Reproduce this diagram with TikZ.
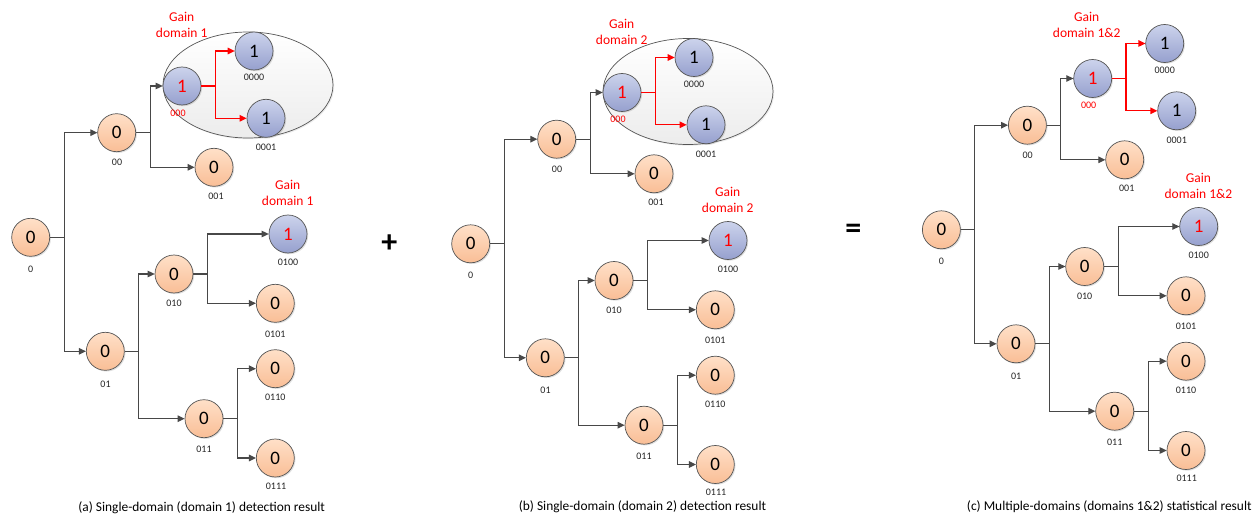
\documentclass[tikz,border=0pt]{standalone}
\usepackage{fontspec}
\setmainfont{Carlito}
\usetikzlibrary{arrows.meta,shadows,shapes.geometric}
\definecolor{orA}{RGB}{255,224,200}
\definecolor{orB}{RGB}{249,190,150}
\definecolor{blA}{RGB}{204,211,236}
\definecolor{blB}{RGB}{150,160,206}
\definecolor{edgegray}{RGB}{72,72,72}
\definecolor{bordergray}{RGB}{85,85,85}
\definecolor{ellA}{RGB}{255,255,255}
\definecolor{ellB}{RGB}{236,236,236}
\tikzset{
  tnode/.style={circle, draw=bordergray, line width=0.7pt, minimum size=38pt, inner sep=0pt,
    font=\fontsize{19}{19}\selectfont,
    drop shadow={opacity=0.25, shadow xshift=1.2pt, shadow yshift=-1.2pt}},
  zero/.style={tnode, top color=orA, bottom color=orB},
  one/.style={tnode, top color=blA, bottom color=blB},
  num/.style={font=\fontsize{10}{10}\selectfont, text=black!85, inner sep=0pt},
  gain/.style={text=red, align=center, font=\fontsize{13.5}{16}\selectfont, inner sep=0pt},
  edge/.style={draw=edgegray, line width=1.1pt, -{Triangle[length=7pt,width=6.5pt]}},
  redge/.style={draw=red, line width=1.3pt, -{Triangle[length=7pt,width=6.5pt]}},
  grp/.style={ellipse, draw=bordergray, line width=0.7pt, minimum width=170pt, minimum height=106pt,
    inner sep=0pt, top color=ellA, bottom color=ellB,
    drop shadow={opacity=0.15, shadow xshift=1.2pt, shadow yshift=-1.2pt}},
  caption/.style={font=\fontsize{13.4}{13.4}\selectfont, inner sep=0pt},
  opsign/.style={font=\bfseries\fontsize{32}{32}\selectfont, inner sep=0pt}
}
% #1 = upper gain text position, #2 = gain text
\newcommand\treebody[2]{%
  \node[zero] (r) at (30.7,237.3) {0};
  \node[zero] (n00) at (116.7,132.7) {0};
  \node[one, text=red] (n000) at (182,86) {1};
  \node[one] (n0000) at (254,51) {1};
  \node[one] (n0001) at (266,118.3) {1};
  \node[zero] (n001) at (214,167.3) {0};
  \node[zero] (n01) at (105.3,351.3) {0};
  \node[zero] (n010) at (174,274) {0};
  \node[one, text=red] (n0100) at (288,234) {1};
  \node[zero] (n0101) at (275.3,303.3) {0};
  \node[zero] (n011) at (204,418.7) {0};
  \node[zero] (n0110) at (275.3,368.7) {0};
  \node[zero] (n0111) at (275.3,458) {0};
  \node[num] (lr) at (30.7,269) {0};
  \node[num] (l00) at (117,162.7) {00};
  \node[num, text=red] (l000) at (178,113) {000};
  \node[num] (l0000) at (254,77.7) {0000};
  \node[num] (l0001) at (266,147.3) {0001};
  \node[num] (l001) at (216,196) {001};
  \node[num] (l0100) at (288,262.3) {0100};
  \node[num] (l010) at (174,303.3) {010};
  \node[num] (l0101) at (275.3,334) {0101};
  \node[num] (l01) at (105.5,384) {01};
  \node[num] (l0110) at (275.3,397.3) {0110};
  \node[num] (l011) at (204,449.3) {011};
  \node[num] (l0111) at (276,486) {0111};
  \node[gain] (g1) at #1 {Gain\\#2};
  \node[gain] (g2) at (287.7,193) {Gain\\#2};
  \draw[edge] (r.east) -- ++(14,0) |- (n00.west);
  \draw[edge] (r.east) ++(14,0) |- (n01.west);
  \draw[edge] (n00.east) -- ++(14,0) |- (n000.west);
  \draw[edge] (n00.east) ++(14,0) |- (n001.west);
  \draw[redge] (n000.east) -- ++(14,0) |- (n0000.west);
  \draw[redge] (n000.east) ++(14,0) |- (n0001.west);
  \draw[edge] (n01.east) -- ++(14,0) |- (n010.west);
  \draw[edge] (n01.east) ++(14,0) |- (n011.west);
  \draw[edge] (n010.east) -- ++(14,0) |- (n0100.west);
  \draw[edge] (n010.east) ++(14,0) |- (n0101.west);
  \draw[edge] (n011.east) -- ++(14,0) |- (n0110.west);
  \draw[edge] (n011.east) ++(14,0) |- (n0111.west);
}
\begin{document}
\begin{tikzpicture}[x=1pt,y=-1pt]
  \useasboundingbox[fill=white] (0,0) rectangle (1253,516);
  \begin{scope}[name prefix=a-]
    \node[grp] (ell) at (248,85) {};
    \treebody{(181.7,25.2)}{domain 1}
  \end{scope}
  \begin{scope}[shift={(440,6.5)}, name prefix=b-]
    \node[grp] (ell) at (248,85) {};
    \treebody{(181.7,25.2)}{domain 2}
  \end{scope}
  \begin{scope}[shift={(910.7,-7.5)}, name prefix=c-]
    \treebody{(176,32.8)}{domain 1\&2}
  \end{scope}
  \node[opsign] (plus) at (389.3,243.3) {+};
  \node[opsign] (eq) at (853.3,231.7) {=};
  \node[caption] (capa) at (201.7,508) {(a) Single-domain (domain 1) detection result};
  \node[caption] (capb) at (642.5,507) {(b) Single-domain (domain 2) detection result};
  \node[caption] (capc) at (1109.3,507) {(c) Multiple-domains (domains 1\&2) statistical result};
\end{tikzpicture}
\end{document}
